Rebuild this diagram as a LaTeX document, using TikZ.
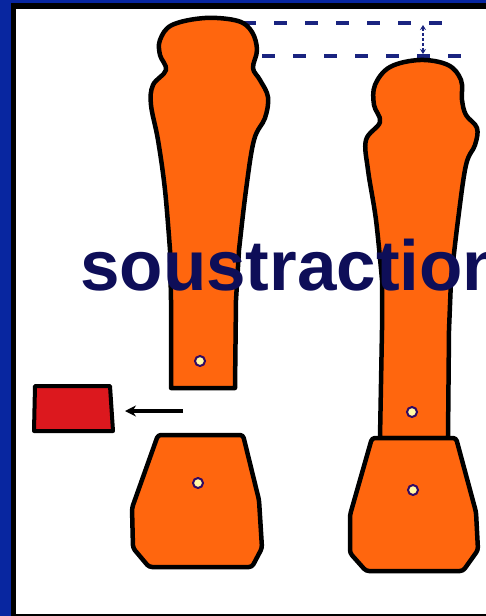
\documentclass[tikz,border=0pt]{standalone}
\usepackage{fontspec}
\setmainfont{Liberation Sans}
\usetikzlibrary{arrows.meta}
\definecolor{frameblue}{RGB}{8,38,160}
\definecolor{boneorange}{RGB}{255,102,14}
\definecolor{blockred}{RGB}{220,24,30}
\definecolor{inkblue}{RGB}{14,14,88}
\definecolor{dashblue}{RGB}{26,36,128}

\begin{document}
\begin{tikzpicture}[x=1pt,y=-1pt,
    bone/.style={fill=boneorange, draw=black, line width=4.5pt, line join=round},
    hole/.style={circle, draw=inkblue!70!violet, line width=2pt, fill=yellow!35!white, inner sep=0pt, minimum size=10pt},
    guide/.style={dashblue, line width=3.2pt, dash pattern=on 13pt off 18pt}]
  \clip (0,0) rectangle (486,616);
  % frame
  \fill[frameblue] (0,0) rectangle (486,616);
  \fill[black] (11,3) rectangle (486,616);
  \fill[white] (16,9) rectangle (486,614);

  % level lines and the gap between them
  \draw[guide] (243,23) -- (450,23);
  \draw[guide] (262,56) -- (470,56);
  \coordinate (gaptop) at (423,25);
  \coordinate (gapbot) at (423,54);
  \draw[dashblue, line width=1.8pt, dash pattern=on 3pt off 2pt, {Stealth[length=5pt,width=6pt]}-{Stealth[length=5pt,width=6pt]}] (gaptop) -- (gapbot);

  % cut bone, upper part
  \draw[bone] (171,388) -- (171,300) -- plot[smooth, tension=0.6] coordinates {(170,250) (165,190) (158,140) (151,105) (153,85) (166,70) (160,55) (160,40) (172,25) (205,18) (238,21) (252,32) (257,50) (253,68) (260,80) (268,97) (265,118) (254,140) (246,190) (239,250)} -- (236,300) -- (235,388) -- cycle;
  % cut bone, lower part
  \draw[bone, rounded corners=3pt] (158,435) -- (243,435) -- (259,500) -- (262,548) -- (252,567) -- (149,567) -- (133,548) -- (132,508) -- cycle;
  \node[hole] (pinA) at (200,361) {};
  \node[hole] (pinB) at (198,483) {};

  % removed slice
  \draw[fill=blockred, line width=4pt, line join=round] (35,386) -- (110,386) -- (113,431) -- (34,431) -- cycle;
  \coordinate (pushfrom) at (183,411);
  \coordinate (pushto) at (125,411);
  \draw[line width=3.5pt, -{Stealth[length=11pt,width=11pt]}] (pushfrom) -- (pushto);

  % shortened bone
  \draw[bone] (380,438) -- (382,330) -- plot[smooth, tension=0.6] coordinates {(382,280) (376,220) (368,170) (366,140) (380,122) (374,105) (375,85) (390,67) (420,60) (448,65) (461,80) (462,100) (466,115) (477,128) (475,145) (466,165) (458,220) (451,280)} -- (449,330) -- (448,438) -- cycle;
  \draw[bone, rounded corners=3pt] (372,438) -- (456,438) -- (476,512) -- (478,550) -- (463,571) -- (366,571) -- (350,553) -- (350,515) -- cycle;
  \node[hole] (pinC) at (412,412) {};
  \node[hole] (pinD) at (413,490) {};

  \node[font=\bfseries\fontsize{71}{71}\selectfont, text=inkblue, anchor=base west, inner sep=0pt] (title) at (80,290) {soustraction};
\end{tikzpicture}
\end{document}
